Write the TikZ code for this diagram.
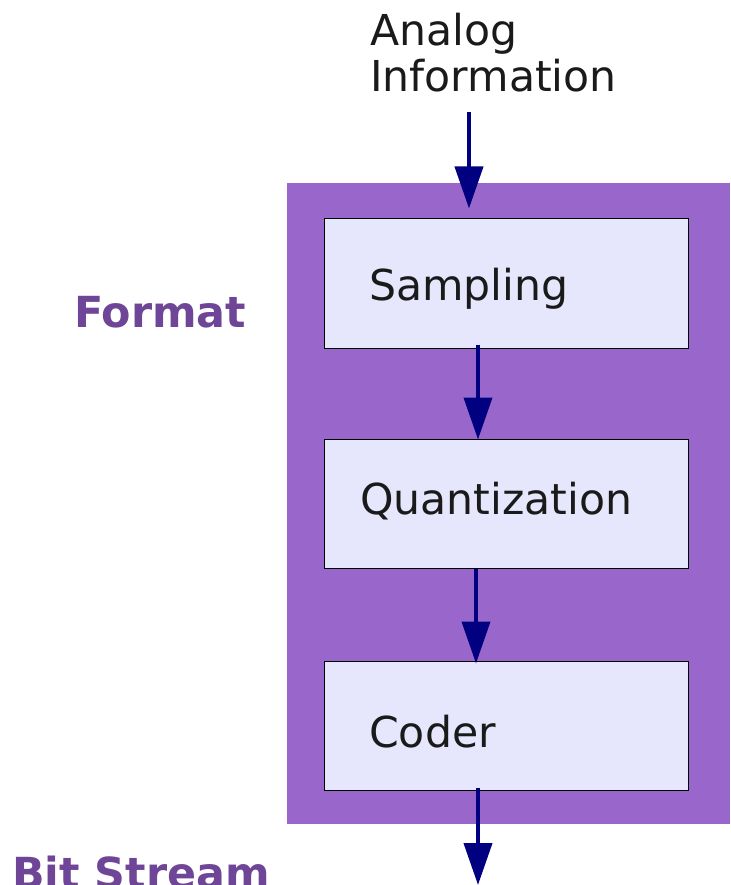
\documentclass[tikz,border=0pt]{standalone}
\usepackage{fontspec}
\setmainfont{DejaVu Sans}
\usetikzlibrary{arrows.meta,calc}
\definecolor{fmtpurple}{HTML}{9966CC}
\definecolor{boxfill}{HTML}{E6E6FC}
\definecolor{txtgray}{HTML}{1A1A1A}
\definecolor{lblpurple}{HTML}{6F4597}
\definecolor{arrnavy}{HTML}{000080}
\begin{document}
\begin{tikzpicture}[x=1pt,y=-1pt,
  plaintext/.style={anchor=base west,inner sep=0pt,text=txtgray,font=\fontsize{42.6}{46}\selectfont},
  sidelabel/.style={anchor=base west,inner sep=0pt,text=lblpurple,font=\fontsize{42.8}{46}\selectfont\bfseries},
  stagebox/.style={draw=black,line width=1pt,fill=boxfill,minimum width=364pt,minimum height=129pt,inner sep=0pt},
  flowarrow/.style={draw=arrnavy,line width=4pt,-{Triangle[length=42pt,width=28pt]}}]
\useasboundingbox (0,0) rectangle (730,885);
% format region
\node[fill=fmtpurple,minimum width=443pt,minimum height=641pt,inner sep=0pt] (fmt) at (508.5,503.5) {};
% stage boxes
\node[stagebox] (samp) at (506,283.5) {};
\node[stagebox] (quant) at (506,503.5) {};
\node[stagebox] (coder) at (506,725.5) {};
% texts
\node[plaintext] (analog) at (370,46) {Analog};
\node[plaintext] (info) at (370,92) {Information};
\node[plaintext] (samptxt) at (369,300) {Sampling};
\node[plaintext] (quanttxt) at (360,514) {Quantization};
\node[plaintext] (codertxt) at (369,747) {Coder};
\node[sidelabel] (format) at (74,327) {Format};
\node[sidelabel] (bits) at (12,888) {Bit Stream};
% connectors
\coordinate (inStart) at (469,112);
\coordinate (outEnd) at (478,885);
\draw[flowarrow] (inStart) -- ($(samp.north)+(-37,-10)$);
\draw[flowarrow] ($(samp.south)+(-28,-4)$) -- ($(quant.north)+(-28,1)$);
\draw[flowarrow] ($(quant.south)+(-30,0)$) -- ($(coder.north)+(-30,3)$);
\draw[flowarrow] ($(coder.south)+(-28,-3)$) -- (outEnd);
\end{tikzpicture}
\end{document}
